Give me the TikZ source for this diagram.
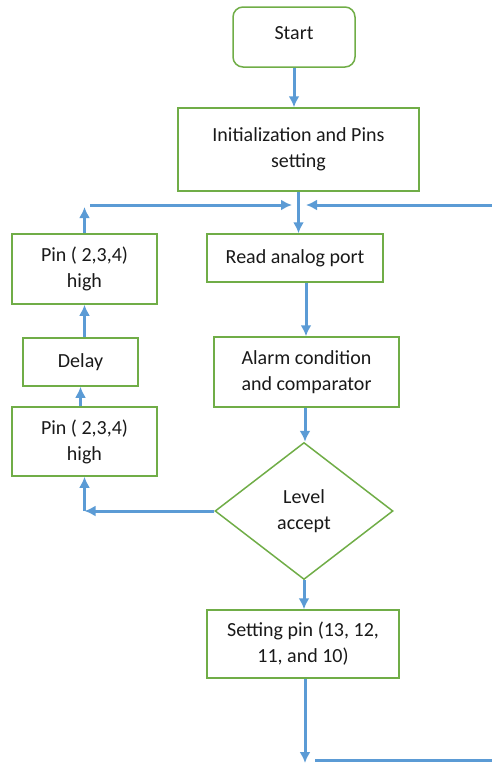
\documentclass[tikz,border=0pt]{standalone}
\usepackage{fontspec}
\setmainfont{Carlito}
\usetikzlibrary{shapes.geometric,arrows.meta}
\definecolor{boxgreen}{RGB}{112,173,71}
\definecolor{arrblue}{RGB}{91,155,213}
\begin{document}
\begin{tikzpicture}[x=1pt,y=-1pt,
  box/.style={draw=boxgreen, line width=1.5pt, align=center, inner sep=0pt,
    font=\fontsize{20}{26}\selectfont, text=black!90},
  arr/.style={draw=arrblue, line width=3pt, -{Latex[length=11pt,width=11pt]}},
  plain/.style={draw=arrblue, line width=3pt}]
\useasboundingbox (0,0) rectangle (492,764);
\node[box, rounded corners=10pt, minimum width=122pt, minimum height=60pt] (start) at (294,37) {\raisebox{7pt}{Start}};
\node[box, minimum width=241pt, minimum height=83pt] (init) at (298.5,149.5) {Initialization and Pins\\setting};
\node[box, minimum width=176pt, minimum height=48pt] (read) at (295,258) {Read analog port};
\node[box, minimum width=185pt, minimum height=70pt] (alarm) at (306.5,372) {Alarm condition\\and comparator};
\node[box, shape=diamond, minimum width=178pt, minimum height=137pt, aspect=1.3] (dia) at (304,511) {Level\\accept};
\node[box, minimum width=192pt, minimum height=68pt] (set) at (303,644) {Setting pin (13, 12,\\11, and 10)};
\node[box, minimum width=145pt, minimum height=69pt] (pin1) at (84.5,441.5) {Pin ( 2,3,4)\\high};
\node[box, minimum width=115pt, minimum height=48pt] (delay) at (80.5,362) {Delay};
\node[box, minimum width=145pt, minimum height=70pt] (pin2) at (84.5,269) {Pin ( 2,3,4)\\high};
\coordinate (jl) at (292,205);
\coordinate (jr) at (306,205);
\coordinate (ls) at (90,205);
\coordinate (rs) at (492,205);
\coordinate (up) at (84.5,207);
\coordinate (corner) at (84.5,511);
\coordinate (bot) at (305,763);
\coordinate (bs) at (315,760);
\coordinate (be) at (492,760);
\draw[arr] (start.south) -- (start.south |- init.north);
\draw[arr] (init.south) -- (init.south |- read.north);
\draw[arr] (ls) -- (jl);
\draw[arr] (rs) -- (jr);
\draw[arr] (read.south -| 306,0) -- (alarm.north -| 306,0);
\draw[arr] (alarm.south -| 305,0) -- (dia.north -| 305,0);
\draw[arr] (dia.south) -- (dia.south |- set.north);
\draw[arr] (set.south -| 305,0) -- (bot);
\draw[plain] (bs) -- (be);
\draw[arr] (dia.west) -- (corner);
\draw[arr] (corner) -- (pin1.south);
\draw[arr] (delay.south |- pin1.north) -- (delay.south);
\draw[arr] (pin2.south |- delay.north) -- (pin2.south);
\draw[arr] (pin2.north) -- (up);
\end{tikzpicture}
\end{document}
